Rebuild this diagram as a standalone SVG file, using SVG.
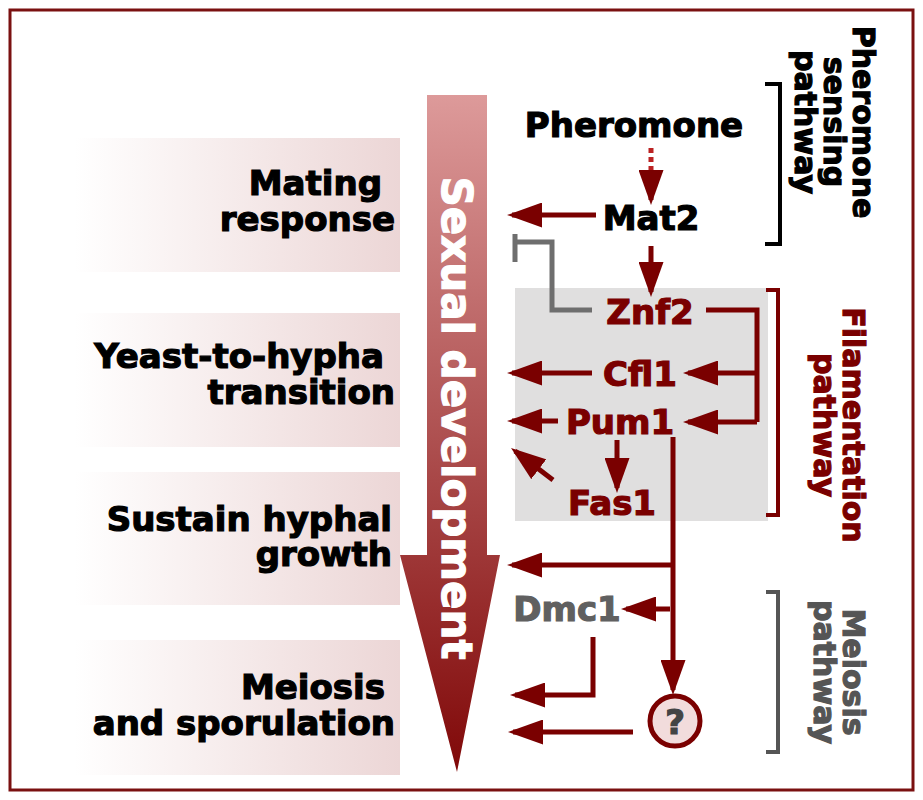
<svg xmlns="http://www.w3.org/2000/svg" width="923" height="800" viewBox="0 0 923 800">
<style>
text{font-family:"DejaVu Sans","Liberation Sans",sans-serif;font-weight:bold;stroke-width:1.2}
.lbl{font-size:34px;fill:#000;stroke:#000;text-anchor:end}
.n{font-size:34px;text-anchor:middle}
.r{fill:#7a0000;stroke:#7a0000}
.ln{stroke:#7a0000;stroke-width:5;fill:none}
.rt{font-size:30px;text-anchor:middle}
</style>
<defs>
<linearGradient id="band" x1="0" x2="1" y1="0" y2="0"><stop offset="0" stop-color="#fff"/><stop offset="1" stop-color="#ecd6d6"/></linearGradient>
<linearGradient id="big" x1="0" x2="0" y1="0" y2="1"><stop offset="0" stop-color="#dd9a9a"/><stop offset="1" stop-color="#800808"/></linearGradient>
<marker id="a" markerWidth="7" markerHeight="5" refX="6" refY="2.5" orient="auto" markerUnits="strokeWidth" viewBox="0 0 7 5"><path d="M0,0 L7,2.5 L0,5 Z" fill="#7a0000"/></marker>
</defs>
<rect x="10" y="10" width="903" height="780" fill="#fff" stroke="#7a1010" stroke-width="3"/>
<g id="bands">
<rect x="75" y="138" width="325" height="134" fill="url(#band)"/>
<rect x="75" y="313" width="325" height="134" fill="url(#band)"/>
<rect x="75" y="472" width="325" height="133" fill="url(#band)"/>
<rect x="75" y="640" width="325" height="135" fill="url(#band)"/>
</g>
<g id="labels">
<text class="lbl" x="382" y="195">Mating</text>
<text class="lbl" x="395" y="231">response</text>
<text class="lbl" x="384" y="368">Yeast-to-hypha</text>
<text class="lbl" x="395" y="404">transition</text>
<text class="lbl" x="392" y="531">Sustain hyphal</text>
<text class="lbl" x="392" y="566">growth</text>
<text class="lbl" x="385" y="699">Meiosis</text>
<text class="lbl" x="395" y="735">and sporulation</text>
</g>
<g id="bigarrow">
<path d="M427,95 H487 V555 H500 L457,772 L400,555 H427 Z" fill="url(#big)"/>
<text transform="translate(442,418) rotate(90)" font-size="42" fill="#fff" stroke="#fff" text-anchor="middle">Sexual development</text>
</g>
<rect id="filbox" x="515" y="288" width="253" height="233" fill="#e0dfdf"/>
<g id="nodes">
<g id="pheromone"><text class="n" x="634" y="137" font-size="36" fill="#000" stroke="#000">Pheromone</text></g>
<g id="mat2"><text class="n" x="651" y="230" fill="#000" stroke="#000">Mat2</text></g>
<g id="znf2"><text class="n r" x="650" y="324">Znf2</text></g>
<g id="cfl1"><text class="n r" x="640" y="386">Cfl1</text></g>
<g id="pum1"><text class="n r" x="620" y="434">Pum1</text></g>
<g id="fas1"><text class="n r" x="612" y="515">Fas1</text></g>
<g id="dmc1"><text class="n" x="567" y="621" fill="#606060" stroke="#606060">Dmc1</text></g>
<g id="q"><circle cx="675" cy="721" r="25" fill="#f2dcdc" stroke="#7a0000" stroke-width="5"/><text class="n" x="675" y="734" fill="#444" stroke="#444">?</text></g>
</g>
<g id="connectors">
<path d="M651,148 V180" stroke="#b22" stroke-width="5" stroke-dasharray="5,4"/>
<path d="M651,180 V200" class="ln" marker-end="url(#a)"/>
<path d="M596,215 H512" class="ln" marker-end="url(#a)"/>
<path d="M651,246 V292" class="ln" marker-end="url(#a)"/>
<path d="M592,310 H552 V242 H515 M515,234 V262" stroke="#6e6e6e" stroke-width="5" fill="none"/>
<path d="M706,310 H757 V422" class="ln"/>
<path d="M757,373 H688" class="ln" marker-end="url(#a)"/>
<path d="M757,422 H688" class="ln" marker-end="url(#a)"/>
<path d="M592,373 H512" class="ln" marker-end="url(#a)"/>
<path d="M558,421 H512" class="ln" marker-end="url(#a)"/>
<path d="M617,440 V488" class="ln" marker-end="url(#a)"/>
<path d="M553,480 L515,451" class="ln" marker-end="url(#a)"/>
<path d="M673,437 V690" class="ln" marker-end="url(#a)"/>
<path d="M673,565 H512" class="ln" marker-end="url(#a)"/>
<path d="M670,609 H626" class="ln" marker-end="url(#a)"/>
<path d="M593,637 V695 H515" class="ln" marker-end="url(#a)"/>
<path d="M633,732 H513" class="ln" marker-end="url(#a)"/>
</g>
<g id="brackets">
<path d="M765,84 H780 V244 H765" stroke="#000" stroke-width="4" fill="none"/>
<path d="M766,290 H778 V515 H766" stroke="#7a0000" stroke-width="4" fill="none"/>
<path d="M766,592 H778 V752 H766" stroke="#555" stroke-width="4" fill="none"/>
<g transform="translate(853,122) rotate(90)" fill="#000" stroke="#000"><text class="rt" x="0" y="0">Pheromone</text><text class="rt" x="0" y="29">sensing</text><text class="rt" x="0" y="58">pathway</text></g>
<g transform="translate(843,425) rotate(90)" fill="#7a0000" stroke="#7a0000"><text class="rt" x="0" y="0">Filamentation</text><text class="rt" x="0" y="29">pathway</text></g>
<g transform="translate(843,672) rotate(90)" fill="#555" stroke="#555"><text class="rt" x="0" y="0">Meiosis</text><text class="rt" x="0" y="29">pathway</text></g>
</g>
</svg>
